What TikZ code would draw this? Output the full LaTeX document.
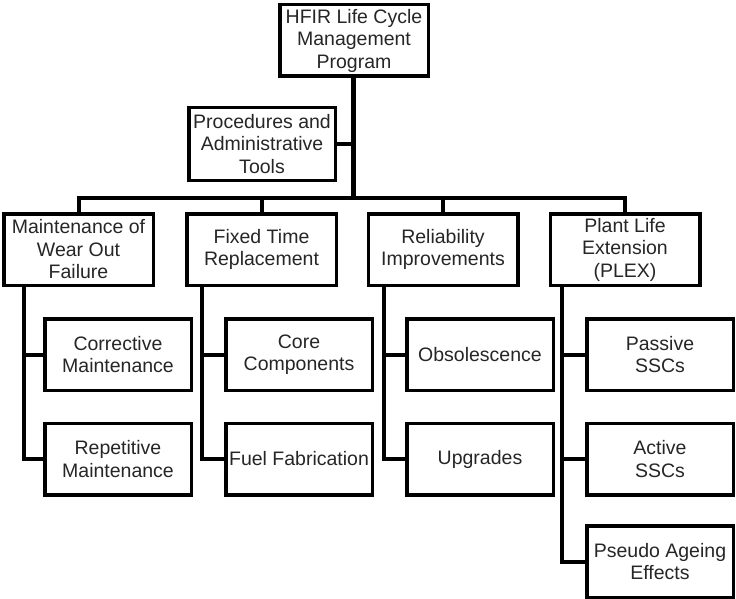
\documentclass[tikz,border=0pt]{standalone}
\usepackage{fontspec}
\setmainfont{Liberation Sans}
\begin{document}
\begin{tikzpicture}[x=1pt,y=-1pt,
  box/.style={draw=black, line width=3.5pt, fill=white, inner sep=0pt, align=center,
    font=\fontsize{19.5}{22.5}\selectfont, text=black!85},
  lvl/.style={box, minimum width=149.5pt, minimum height=71.5pt},
  leaf/.style={box, minimum width=146.5pt, minimum height=71.5pt},
  conn/.style={draw=black, line width=4pt},
  trunk/.style={draw=black, line width=5pt}]
\useasboundingbox (0,0) rectangle (736,599);
% top
\node[box, minimum width=148.5pt, minimum height=71.5pt] (top) at (354,40.5) {HFIR Life Cycle\\Management\\Program};
\node[box, minimum width=146.5pt, minimum height=72.5pt] (proc) at (262,144) {Procedures and\\Administrative\\Tools};
% level 2
\node[lvl] (b1) at (78.5,249.5) {Maintenance of\\Wear Out\\Failure};
\node[lvl] (b2) at (261.5,249.5) {Fixed Time\\Replacement};
\node[lvl] (b3) at (443,249.5) {Reliability\\Improvements};
\node[lvl] (b4) at (625,249.5) {Plant Life\\Extension\\(PLEX)};
% leaves
\node[leaf] (c11) at (118,354.5) {Corrective\\Maintenance};
\node[leaf] (c12) at (118,459) {Repetitive\\Maintenance};
\node[leaf] (c21) at (299,354.5) {Core\\Components};
\node[leaf] (c22) at (299,459) {Fuel Fabrication};
\node[leaf] (c31) at (480,354.5) {Obsolescence};
\node[leaf] (c32) at (480,459) {Upgrades};
\node[leaf] (c41) at (660,354.5) {Passive\\SSCs};
\node[leaf] (c42) at (660,459) {Active\\SSCs};
\node[leaf] (c43) at (660,561.5) {Pseudo Ageing\\Effects};
% bus coordinates
\coordinate (bus) at (353,198);
\coordinate (busL) at (78.5,198);
\coordinate (busR) at (625,198);
\coordinate (v1) at (24,0);
\coordinate (v2) at (202,0);
\coordinate (v3) at (384,0);
\coordinate (v4) at (562,0);
% connectors
\draw[trunk] (top.south -| bus) -- (bus);
\draw[conn] (proc.east) -- (proc.east -| bus);
\draw[conn] ([xshift=-2pt]busL) -- ([xshift=2pt]busR);
\draw[conn] (busL) -- (b1.north);
\draw[conn] (b2.north |- bus) -- (b2.north);
\draw[conn] (b3.north |- bus) -- (b3.north);
\draw[conn] (busR) -- (b4.north);
\draw[conn] (b1.south -| v1) |- (c11.west);
\draw[conn] (b1.south -| v1) |- (c12.west);
\draw[conn] (b2.south -| v2) |- (c21.west);
\draw[conn] (b2.south -| v2) |- (c22.west);
\draw[conn] (b3.south -| v3) |- (c31.west);
\draw[conn] (b3.south -| v3) |- (c32.west);
\draw[conn] (b4.south -| v4) |- (c41.west);
\draw[conn] (b4.south -| v4) |- (c42.west);
\draw[conn] (b4.south -| v4) |- (c43.west);
\end{tikzpicture}
\end{document}
